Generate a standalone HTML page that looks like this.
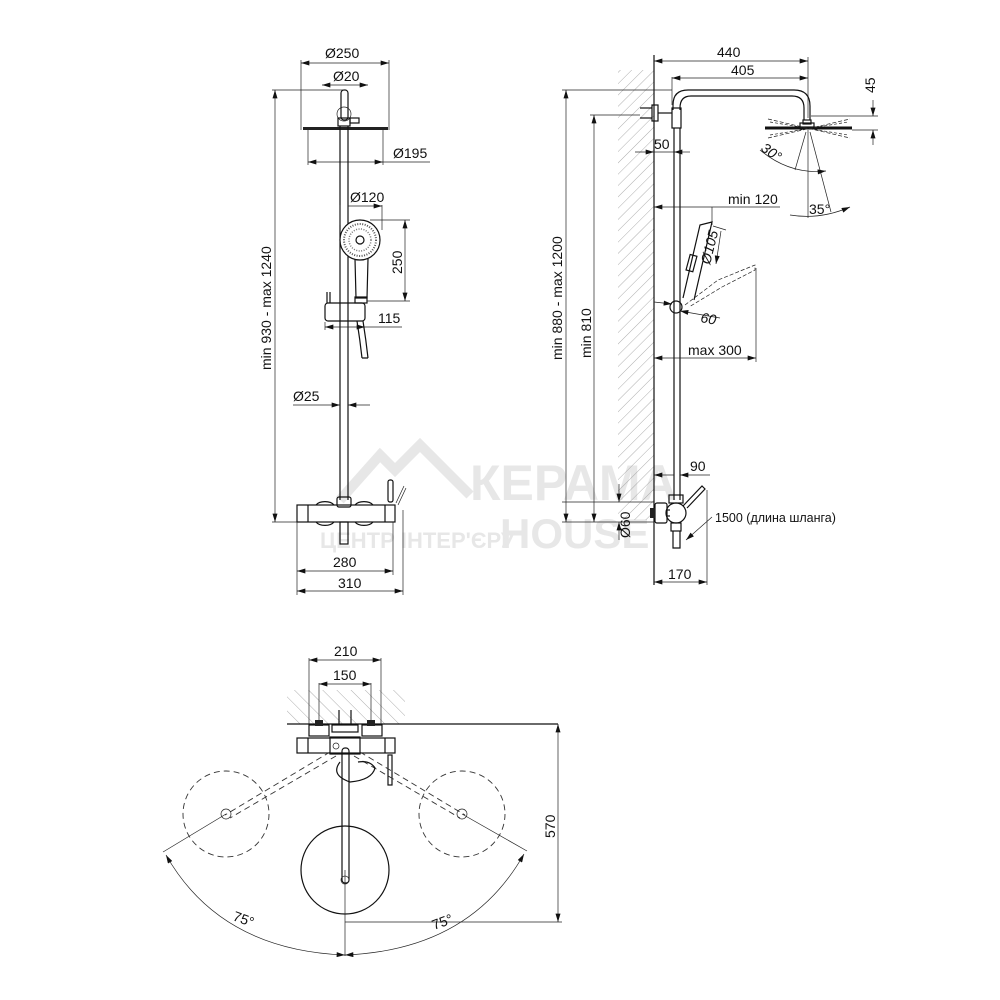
<!DOCTYPE html>
<html><head><meta charset="utf-8">
<style>
html,body{margin:0;padding:0;background:#fff;}
svg{display:block;}
text{font-family:"Liberation Sans","DejaVu Sans",sans-serif;font-size:14px;fill:#111;}
.l{stroke:#111;stroke-width:1.2;fill:none;}
.t{stroke:#222;stroke-width:0.7;fill:none;}
.d{stroke:#333;stroke-width:0.9;fill:none;stroke-dasharray:6 4;}
.wm{fill:#bbb;font-weight:bold;}
</style></head><body>
<svg width="1000" height="1000" viewBox="0 0 1000 1000" xmlns="http://www.w3.org/2000/svg">
<defs>
<marker id="a" viewBox="0 0 10 6" refX="10" refY="3" markerWidth="9" markerHeight="5" orient="auto-start-reverse" markerUnits="userSpaceOnUse"><path d="M0,0 L10,3 L0,6z" fill="#111"/></marker>
<pattern id="hp" width="8" height="8" patternUnits="userSpaceOnUse" patternTransform="rotate(45)"><line x1="0" y1="0" x2="0" y2="8" stroke="#999" stroke-width="0.8"/></pattern>
<pattern id="hq" width="10" height="10" patternUnits="userSpaceOnUse" patternTransform="rotate(-45)"><line x1="0" y1="0" x2="0" y2="10" stroke="#999" stroke-width="0.8"/></pattern>
</defs>

<!-- watermark -->
<g opacity="0.35">
<path d="M340,500 L380,455 L395,470 L420,445 L470,495" stroke="#bbb" stroke-width="10" fill="none"/>
<text x="470" y="500" class="wm" style="font-size:50px">КЕРАМА</text>
<text x="500" y="548" class="wm" style="font-size:42px">HOUSE</text>
<text x="320" y="548" class="wm" style="font-size:22px">ЦЕНТР ІНТЕР'ЄРУ</text>
</g>

<!-- ========== FRONT VIEW ========== -->
<line class="t" x1="301" y1="60" x2="301" y2="130"/><line class="t" x1="389" y1="60" x2="389" y2="130"/>
<line class="t" x1="301" y1="63" x2="389" y2="63" marker-start="url(#a)" marker-end="url(#a)"/>
<text x="325" y="58">Ø250</text>
<line class="t" x1="322" y1="85" x2="368" y2="85" marker-start="url(#a)" marker-end="url(#a)"/>
<text x="333" y="81">Ø20</text>
<rect class="l" x="341" y="90" width="7" height="30" rx="3"/>
<circle class="t" cx="344" cy="114" r="7"/>
<rect class="l" x="338" y="118" width="12" height="8"/>
<rect class="l" x="350" y="118" width="9" height="5"/>
<rect x="303" y="127" width="85" height="3" fill="#222"/>
<line class="t" x1="308" y1="130" x2="308" y2="165"/><line class="t" x1="383" y1="130" x2="383" y2="165"/>
<line class="t" x1="308" y1="162" x2="383" y2="162" marker-start="url(#a)" marker-end="url(#a)"/>
<line class="t" x1="383" y1="162" x2="430" y2="162"/>
<text x="393" y="158">Ø195</text>
<line class="l" x1="340" y1="126" x2="340" y2="500"/>
<line class="l" x1="348" y1="126" x2="348" y2="500"/>
<line class="t" x1="340" y1="205" x2="340" y2="225"/><line class="t" x1="382" y1="205" x2="382" y2="230"/>
<line class="t" x1="348" y1="206" x2="382" y2="206" marker-end="url(#a)"/>
<text x="350" y="202">Ø120</text>
<circle cx="360" cy="240" r="20" fill="#fff" stroke="#111" stroke-width="1.2"/>
<circle cx="360" cy="240" r="16" fill="none" stroke="#555" stroke-width="2" stroke-dasharray="1 1.5"/>
<circle cx="360" cy="240" r="11" fill="none" stroke="#777" stroke-width="1.5" stroke-dasharray="1 1.5"/>
<circle class="l" cx="360" cy="240" r="4"/>
<path class="l" d="M355,259 L356,298 L367,298 L368,259"/>
<rect class="l" x="355" y="297" width="12" height="6"/>
<line class="t" x1="370" y1="220" x2="410" y2="220"/><line class="t" x1="367" y1="301" x2="410" y2="301"/>
<line class="t" x1="405" y1="220" x2="405" y2="301" marker-start="url(#a)" marker-end="url(#a)"/>
<text transform="translate(402,274) rotate(-90)">250</text>
<rect class="l" x="325" y="303" width="40" height="18" rx="3"/>
<line class="l" x1="327" y1="292" x2="327" y2="303"/><line class="l" x1="330" y1="292" x2="330" y2="303"/>
<line class="t" x1="325" y1="322" x2="325" y2="330"/>
<line class="t" x1="325" y1="327" x2="365" y2="327" marker-start="url(#a)" marker-end="url(#a)"/>
<line class="t" x1="365" y1="327" x2="402" y2="327"/>
<text x="378" y="323">115</text>
<path class="l" d="M357,321 Q360,340 362,358 M363,321 Q366,340 368,358 M362,358 L368,358"/>
<line class="t" x1="293" y1="405" x2="340" y2="405" marker-end="url(#a)"/>
<line class="t" x1="348" y1="405" x2="370" y2="405" marker-start="url(#a)"/>
<text x="293" y="401">Ø25</text>
<line class="t" x1="272" y1="90" x2="345" y2="90"/>
<line class="t" x1="272" y1="522" x2="300" y2="522"/>
<line class="t" x1="275" y1="90" x2="275" y2="522" marker-start="url(#a)" marker-end="url(#a)"/>
<text transform="translate(271,370) rotate(-90)">min 930 - max 1240</text>
<rect class="l" x="337" y="497" width="14" height="10" rx="2"/>
<path class="l" d="M316,505 A10,6 0 0 1 334,505 M355,505 A10,6 0 0 1 373,505 M316,522 A10,6 0 0 0 334,522 M355,522 A10,6 0 0 0 373,522"/>
<rect class="l" x="297" y="505" width="98" height="17"/>
<line class="l" x1="308" y1="505" x2="308" y2="522"/>
<line class="l" x1="385" y1="505" x2="385" y2="522"/>
<rect class="l" x="340" y="522" width="8" height="22"/>
<rect class="l" x="388" y="480" width="5" height="22" rx="2"/>
<line class="t" x1="396" y1="503" x2="404" y2="486"/><line class="t" x1="398" y1="505" x2="406" y2="488"/>
<line class="t" x1="297" y1="522" x2="297" y2="595"/><line class="t" x1="393" y1="522" x2="393" y2="575"/><line class="t" x1="403" y1="510" x2="403" y2="595"/>
<line class="t" x1="297" y1="571" x2="393" y2="571" marker-start="url(#a)" marker-end="url(#a)"/>
<line class="t" x1="297" y1="591" x2="403" y2="591" marker-start="url(#a)" marker-end="url(#a)"/>
<text x="333" y="567">280</text><text x="338" y="588">310</text>

<!-- ========== SIDE VIEW ========== -->
<rect x="618" y="70" width="36" height="450" fill="url(#hp)"/>
<line class="l" x1="654" y1="55" x2="654" y2="585"/>
<line class="t" x1="808" y1="57" x2="808" y2="118"/>
<line class="t" x1="654" y1="61" x2="808" y2="61" marker-start="url(#a)" marker-end="url(#a)"/>
<text x="717" y="57">440</text>
<line class="t" x1="672" y1="77" x2="672" y2="105"/>
<line class="t" x1="672" y1="78" x2="808" y2="78" marker-start="url(#a)" marker-end="url(#a)"/>
<text x="731" y="75">405</text>
<path class="l" d="M673,110 L673,105 Q673,90 688,90 L794,90 Q810,90 810,106 L810,120"/>
<path class="l" d="M680,110 L680,108 Q680,96 691,96 L792,96 Q804,96 804,108 L804,120"/>
<rect class="l" x="672" y="108" width="9" height="20"/>
<rect class="l" x="803" y="120" width="8" height="4"/>
<rect class="l" x="800" y="123" width="14" height="4"/>
<line x1="765" y1="128" x2="852" y2="128" stroke="#111" stroke-width="3"/>
<line class="t" x1="768" y1="119" x2="850" y2="138" stroke-dasharray="4 2"/>
<line class="t" x1="768" y1="138" x2="850" y2="119" stroke-dasharray="4 2"/>
<line class="t" x1="770" y1="122" x2="848" y2="135" stroke-dasharray="3 2"/>
<line class="t" x1="770" y1="135" x2="848" y2="122" stroke-dasharray="3 2"/>
<rect class="l" x="652" y="105" width="6" height="16"/>
<line class="l" x1="658" y1="113" x2="672" y2="113"/>
<line class="l" x1="640" y1="108" x2="652" y2="108"/><line class="l" x1="640" y1="118" x2="652" y2="118"/>
<line class="t" x1="811" y1="116" x2="878" y2="116"/><line class="t" x1="852" y1="130" x2="878" y2="130"/>
<line class="t" x1="873" y1="100" x2="873" y2="116" marker-end="url(#a)"/>
<line class="t" x1="873" y1="145" x2="873" y2="130" marker-end="url(#a)"/>
<text transform="translate(875,93) rotate(-90)">45</text>
<line class="t" x1="808" y1="130" x2="808" y2="218"/>
<line class="t" x1="806" y1="132" x2="795" y2="170"/>
<line class="t" x1="810" y1="132" x2="831" y2="212"/>
<path class="t" d="M760,150 Q790,175 826,171" marker-end="url(#a)"/>
<path class="t" d="M790,215 Q820,220 850,207" marker-end="url(#a)"/>
<text transform="translate(760,150) rotate(35)" style="font-style:italic">30°</text>
<text x="809" y="214">35°</text>
<line class="l" x1="674" y1="128" x2="674" y2="500"/>
<line class="l" x1="680" y1="128" x2="680" y2="500"/>
<line class="t" x1="635" y1="152" x2="654" y2="152" marker-end="url(#a)"/>
<line class="t" x1="674" y1="152" x2="690" y2="152" marker-start="url(#a)"/>
<line class="t" x1="654" y1="152" x2="674" y2="152"/>
<text x="654" y="149">50</text>
<line class="t" x1="654" y1="207" x2="780" y2="207" marker-start="url(#a)"/>
<line class="t" x1="712" y1="207" x2="712" y2="225"/>
<text x="728" y="204">min 120</text>
<path class="l" d="M683,298 L700,225 L712,222 L694,300"/>
<rect class="l" x="688" y="255" width="7" height="16" transform="rotate(15 691 263)"/>
<line class="t" x1="713" y1="226" x2="726" y2="230"/>
<line class="t" x1="721" y1="231" x2="716" y2="264" marker-end="url(#a)"/>
<text transform="translate(710,265) rotate(-76)" style="font-style:italic">Ø105</text>
<path class="t" d="M685,305 L718,280 L755,265 L755,270 L722,287 L689,307" stroke-dasharray="4 2"/>
<circle class="l" cx="676" cy="307" r="6"/>
<line class="t" x1="654" y1="302" x2="672" y2="304" marker-end="url(#a)"/>
<line class="t" x1="680" y1="311" x2="720" y2="318" marker-start="url(#a)"/>
<text transform="translate(700,322) rotate(10)" style="font-style:italic">60</text>
<line class="t" x1="756" y1="268" x2="756" y2="362"/>
<line class="t" x1="654" y1="358" x2="756" y2="358" marker-start="url(#a)" marker-end="url(#a)"/>
<text x="688" y="355">max 300</text>
<line class="t" x1="562" y1="90" x2="672" y2="90"/>
<line class="t" x1="566" y1="90" x2="566" y2="522" marker-start="url(#a)" marker-end="url(#a)"/>
<text transform="translate(562,360) rotate(-90)">min 880 - max 1200</text>
<line class="t" x1="590" y1="115" x2="640" y2="115"/>
<line class="t" x1="594" y1="115" x2="594" y2="522" marker-start="url(#a)" marker-end="url(#a)"/>
<text transform="translate(591,358) rotate(-90)">min 810</text>
<line class="t" x1="562" y1="502" x2="654" y2="502"/>
<line class="t" x1="562" y1="522" x2="654" y2="522"/>
<line class="t" x1="654" y1="475" x2="674" y2="475" marker-start="url(#a)"/>
<line class="t" x1="680" y1="475" x2="710" y2="475" marker-start="url(#a)"/>
<text x="690" y="471">90</text>
<line class="t" x1="619" y1="484" x2="619" y2="502" marker-end="url(#a)"/>
<line class="t" x1="619" y1="540" x2="619" y2="522" marker-end="url(#a)"/>
<text transform="translate(630,538) rotate(-90)">Ø60</text>
<rect class="l" x="655" y="503" width="12" height="20" rx="2"/>
<rect x="650" y="508" width="5" height="10" fill="#222"/>
<line class="l" x1="667" y1="510" x2="670" y2="510"/><line class="l" x1="667" y1="516" x2="670" y2="516"/>
<rect class="l" x="669" y="495" width="14" height="8"/>
<circle class="l" cx="676" cy="513" r="10"/>
<rect class="l" x="671" y="523" width="10" height="8"/>
<path class="l" d="M673,531 L673,548 L680,548 L680,531"/>
<path class="l" d="M683,506 L702,486 L705,489 L687,508"/>
<line class="t" x1="686" y1="540" x2="712" y2="517" marker-start="url(#a)"/>
<text x="715" y="522" style="font-size:12.5px">1500 (длина шланга)</text>
<line class="t" x1="707" y1="490" x2="707" y2="585"/>
<line class="t" x1="654" y1="582" x2="707" y2="582" marker-start="url(#a)" marker-end="url(#a)"/>
<text x="668" y="579">170</text>

<!-- ========== TOP VIEW ========== -->
<rect x="287" y="690" width="118" height="34" fill="url(#hq)"/>
<line class="l" x1="287" y1="724" x2="558" y2="724"/>
<line class="t" x1="309" y1="658" x2="309" y2="725"/><line class="t" x1="381" y1="658" x2="381" y2="725"/>
<line class="t" x1="309" y1="660" x2="381" y2="660" marker-start="url(#a)" marker-end="url(#a)"/>
<text x="334" y="656">210</text>
<line class="t" x1="319" y1="683" x2="319" y2="725"/><line class="t" x1="371" y1="683" x2="371" y2="725"/>
<line class="t" x1="319" y1="684" x2="371" y2="684" marker-start="url(#a)" marker-end="url(#a)"/>
<text x="333" y="680">150</text>
<rect class="l" x="309" y="725" width="20" height="11"/><rect class="l" x="362" y="725" width="20" height="11"/>
<rect x="315" y="720" width="8" height="6" fill="#222"/><rect x="367" y="720" width="8" height="6" fill="#222"/>
<rect class="l" x="332" y="725" width="26" height="7"/>
<line class="l" x1="339" y1="710" x2="339" y2="725"/><line class="l" x1="351" y1="710" x2="351" y2="725"/>
<rect class="l" x="297" y="738" width="98" height="15"/>
<line class="l" x1="308" y1="738" x2="308" y2="753"/><line class="l" x1="385" y1="738" x2="385" y2="753"/>
<rect class="l" x="330" y="737" width="30" height="17"/>
<circle class="t" cx="336" cy="746" r="3"/>
<rect class="l" x="388" y="755" width="4" height="30"/>
<path class="d" d="M330,752 L225,815 M336,756 L230,818 M360,752 L465,815 M354,756 L460,818"/>
<circle class="d" cx="226" cy="814" r="43"/>
<circle class="d" cx="462" cy="814" r="43"/>
<circle class="t" cx="226" cy="814" r="5"/><circle class="t" cx="462" cy="814" r="5"/>
<path class="l" d="M340,762 Q330,775 350,782 Q372,780 375,768 Q370,760 358,762"/>
<rect class="l" x="342" y="748" width="7" height="135" rx="3"/>
<circle class="l" cx="345" cy="870" r="44"/>
<circle class="t" cx="345" cy="880" r="4"/>
<line class="t" x1="345" y1="922" x2="562" y2="922"/>
<line class="t" x1="558" y1="724" x2="558" y2="922" marker-start="url(#a)" marker-end="url(#a)"/>
<text transform="translate(555,838) rotate(-90)">570</text>
<line class="t" x1="345" y1="870" x2="345" y2="956"/>
<line class="t" x1="226" y1="814" x2="163" y2="852"/>
<line class="t" x1="462" y1="814" x2="527" y2="851"/>
<path class="t" d="M345,955 Q220,950 166,855" marker-start="url(#a)" marker-end="url(#a)"/>
<path class="t" d="M345,955 Q470,950 524,854" marker-start="url(#a)" marker-end="url(#a)"/>
<text transform="translate(232,920) rotate(20)">75°</text>
<text transform="translate(434,930) rotate(-20)">75°</text>
</svg>
</body></html>
